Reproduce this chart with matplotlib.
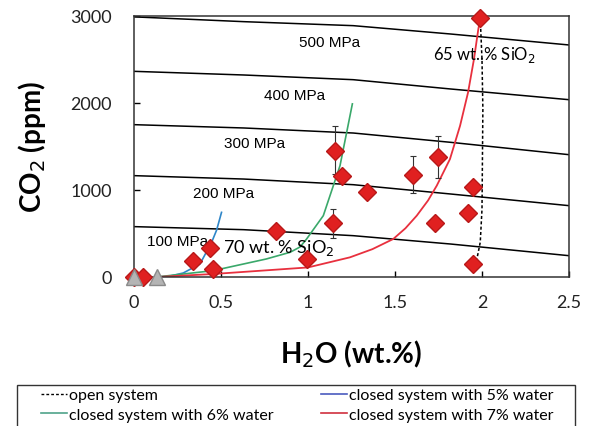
import matplotlib.pyplot as plt
from matplotlib.lines import Line2D
from matplotlib.patches import Rectangle
import numpy as np

# isobars (MPa)
iso_x = [0, 0.63, 1.26, 1.82, 2.5]
iso_500 = [2990, 2935, 2889, 2793, 2667]
iso_400 = [2364, 2322, 2268, 2161, 2038]
iso_300 = [1751, 1713, 1655, 1548, 1406]
iso_200 = [1165, 1126, 1061, 954, 820]
iso_100 = [579, 544, 475, 379, 245]
iso_labels = ["500 MPa", "400 MPa", "300 MPa", "200 MPa", "100 MPa"]
iso_label_pos = [(0.948, 2705), (0.747, 2092), (0.517, 1540), (0.339, 966), (0.075, 414)]

# degassing models
open_x = [1.99, 2.0, 2.005, 2.0, 1.99, 1.975, 1.96]
open_y = [2975, 2500, 1930, 780, 400, 250, 149]
w5_x = [0.13, 0.2, 0.283, 0.379, 0.446, 0.475, 0.503]
w5_y = [0, 8, 46, 149, 398, 540, 743]
w6_x = [0.13, 0.455, 0.76, 0.897, 0.954, 0.992, 1.088, 1.184, 1.255]
w6_y = [0, 73, 207, 284, 345, 437, 705, 1280, 1990]
w7_x = [0.13, 0.46, 1.0, 1.241, 1.37, 1.49, 1.56, 1.625, 1.69, 1.74, 1.816, 1.874, 1.92, 1.954, 1.979, 1.99]
w7_y = [0, 35, 110, 226, 320, 437, 560, 705, 880, 1050, 1356, 1739, 2123, 2506, 2851, 2966]

# melt inclusions
mi_x = [0.0, 0.05, 0.341, 0.437, 0.456, 0.814, 0.992, 1.153, 1.197, 1.146, 1.337,
        1.605, 1.745, 1.73, 1.946, 1.921, 1.95, 1.99]
mi_y = [0, 0, 188, 330, 92, 533, 207, 1452, 1165, 617, 973,
        1176, 1383, 621, 1031, 732, 149, 2980]
err_x = [1.153, 1.146, 1.605, 1.745]
err_y = [1452, 617, 1176, 1383]
err_lo = [1184, 444, 966, 1134]
err_hi = [1732, 782, 1395, 1625]
tri_x = [0.0, 0.13]
tri_y = [0, 0]

fig = plt.figure(figsize=(5.94, 4.27), dpi=100)
ax = fig.add_axes([134/594, 1-278/427, 435/594, 261/427])

for ys in [iso_500, iso_400, iso_300, iso_200, iso_100]:
    ax.plot(iso_x, ys, color='black', lw=1.1)
for lab, (lx, ly) in zip(iso_labels, iso_label_pos):
    ax.text(lx, ly, lab, fontsize=11, family='Liberation Sans', ha='left', va='center')

ax.plot(open_x, open_y, color='black', ls=(0, (2, 1.5)), lw=1.1)
ax.plot(w5_x, w5_y, color='#2f86c8', lw=1.2)
ax.plot(w6_x, w6_y, color='#3aa86a', lw=1.2)
ax.plot(w7_x, w7_y, color='#e8303e', lw=1.3)

ax.errorbar(err_x, err_y,
            yerr=[np.array(err_y) - np.array(err_lo), np.array(err_hi) - np.array(err_y)],
            fmt='none', ecolor='#333333', elinewidth=0.8, capsize=2.5, capthick=0.8)
ax.plot(mi_x, mi_y, 'D', ms=9, mfc='#e02020', mec='#b81818', ls='none', clip_on=False, zorder=5)
ax.plot(tri_x, tri_y, '^', ms=11, mfc='#b4b4b4', mec='#8a8a8a', ls='none', clip_on=False, zorder=6)

ax.text(0.511, 345, "70 wt. % SiO$_2$", fontsize=13, family='Lato', ha='left', va='center')
ax.text(1.718, 2563, "65 wt..% SiO$_2$", fontsize=12, family='Lato', ha='left', va='center')

ax.set_xlim(0, 2.5)
ax.set_ylim(0, 3000)
ax.set_xticks([0, 0.5, 1, 1.5, 2, 2.5])
ax.set_xticklabels(['0', '0.5', '1', '1.5', '2', '2.5'])
ax.set_yticks([0, 1000, 2000, 3000])
ax.tick_params(direction='in', length=4, width=1, labelsize=13)
ax.tick_params(axis='y', pad=16)
ax.tick_params(axis='x', pad=12)
for t in ax.get_xticklabels() + ax.get_yticklabels():
    t.set_family('Lato')
    t.set_color('#222222')
for s in ax.spines.values():
    s.set_color('#333333')
    s.set_linewidth(1.1)

ax.set_xlabel("H$_2$O (wt.%)", fontsize=20, fontweight='bold', family='Lato', labelpad=20)
ax.set_ylabel("CO$_2$ (ppm)", fontsize=20, fontweight='bold', family='Lato', labelpad=16)

# legend: row-wise order as in the original, frame drawn separately
handles = [
    Line2D([], [], color='black', ls=(0, (2, 1.5)), lw=1.0, label='open system'),
    Line2D([], [], color='#4fa38a', lw=1.2, label='closed system with 6% water'),
    Line2D([], [], color='#4a5bbf', lw=1.2, label='closed system with 5% water'),
    Line2D([], [], color='#d0303e', lw=1.2, label='closed system with 7% water'),
]
fig.legend(handles=handles, loc='upper left', bbox_to_anchor=(41/594, 1-389/427), ncol=2,
           prop={'family': 'Lato', 'size': 11.5}, frameon=False,
           handlelength=1.6, handletextpad=0.15, borderpad=0, borderaxespad=0,
           labelspacing=0.35, columnspacing=3.0)
fig.add_artist(Rectangle((17/594, -0.05), 558/594, 1-386/427+0.05, transform=fig.transFigure,
                         fill=False, edgecolor='#333333', lw=1.0))

fig.savefig('out.png', dpi=100)
